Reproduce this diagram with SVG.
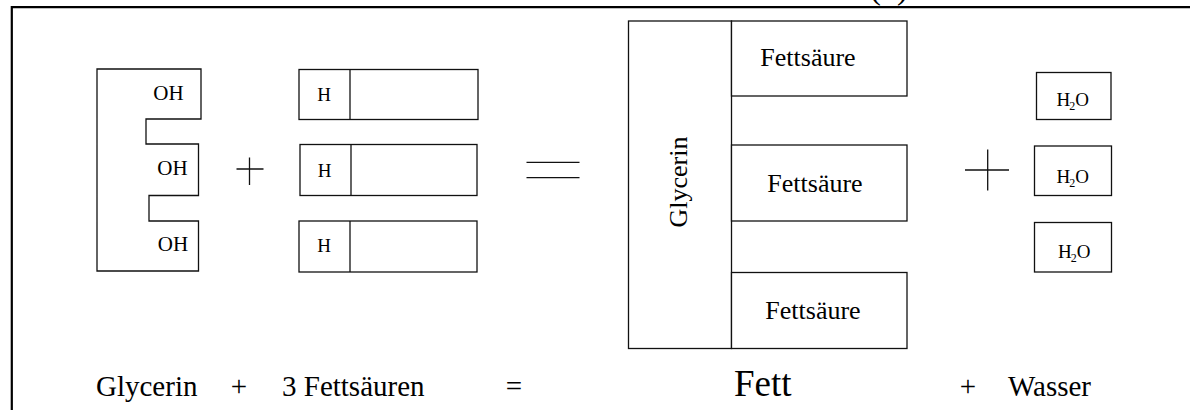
<svg xmlns="http://www.w3.org/2000/svg" width="1190" height="410" viewBox="0 0 1190 410" font-family="'Liberation Serif', 'Times New Roman', serif">
  <style>
    .frame { fill: none; stroke: #000; stroke-width: 2.2; }
    .box { fill: #fff; stroke: #111; stroke-width: 1.3; }
    .ln { fill: none; stroke: #111; stroke-width: 1.3; }
    text { font-family: "Liberation Serif", "Times New Roman", serif; fill: #000; }
    .sm { font-size: 19px; text-anchor: middle; }
    .oh { font-size: 21px; text-anchor: middle; }
    .md { font-size: 26px; text-anchor: middle; }
    .lg { font-size: 29px; }
  </style>

  <rect width="1190" height="410" fill="#fff"/>

  <!-- page frame (top and left rules) and the cut-off heading -->
  <path class="frame" d="M11.8,410 V7.2 H1190"/>
  <text x="889" y="-1" font-size="32" text-anchor="middle">(1)</text>

  <!-- glycerin molecule with three OH groups -->
  <g id="glycerin">
    <path class="ln" d="M97,69 H201 V119 H146 V144 H198.5 V195.5 H149 V221 H198.5 V271 H97 Z"/>
    <text class="oh" x="168.5" y="99.5">OH</text>
    <text class="oh" x="172.5" y="175">OH</text>
    <text class="oh" x="173" y="250.5">OH</text>
  </g>

  <!-- three fatty acids -->
  <g id="fatty-acid-1">
    <rect class="box" x="299" y="69.5" width="179" height="50"/>
    <line class="ln" x1="350" y1="69.5" x2="350" y2="119.5"/>
    <text class="sm" x="324" y="101">H</text>
  </g>
  <g id="fatty-acid-2">
    <rect class="box" x="300" y="144.5" width="177" height="51"/>
    <line class="ln" x1="351" y1="144.5" x2="351" y2="195.5"/>
    <text class="sm" x="324.5" y="176.5">H</text>
  </g>
  <g id="fatty-acid-3">
    <rect class="box" x="299" y="221" width="178" height="51"/>
    <line class="ln" x1="350" y1="221" x2="350" y2="272"/>
    <text class="sm" x="324" y="252">H</text>
  </g>

  <!-- fat: glycerin backbone with three fatty acids -->
  <g id="fat">
    <rect class="box" x="628.5" y="21" width="103" height="327.5"/>
    <text class="md" transform="translate(687,182) rotate(-90)">Glycerin</text>
    <rect class="box" x="731.5" y="21" width="175.5" height="75"/>
    <text class="md" x="808" y="66">Fettsäure</text>
    <rect class="box" x="731.5" y="145" width="175.5" height="76"/>
    <text class="md" x="815" y="191.5">Fettsäure</text>
    <rect class="box" x="731.5" y="272.5" width="175.5" height="76"/>
    <text class="md" x="813" y="319">Fettsäure</text>
  </g>

  <!-- three water molecules -->
  <g id="water-1">
    <rect class="box" x="1036.5" y="72.5" width="74.5" height="47"/>
    <text class="sm" x="1072.7" y="106">H<tspan font-size="12" dx="-1" dy="4">2</tspan><tspan dy="-4">O</tspan></text>
  </g>
  <g id="water-2">
    <rect class="box" x="1034.5" y="146" width="77" height="49.5"/>
    <text class="sm" x="1072.7" y="182.5">H<tspan font-size="12" dx="-1" dy="4">2</tspan><tspan dy="-4">O</tspan></text>
  </g>
  <g id="water-3">
    <rect class="box" x="1034.5" y="222.5" width="77" height="49.5"/>
    <text class="sm" x="1074.3" y="258.3">H<tspan font-size="12" dx="-1" dy="4">2</tspan><tspan dy="-4">O</tspan></text>
  </g>

  <!-- reaction operators -->
  <g id="operators">
    <path class="ln" d="M236.5,169 H263.5 M249.5,157.5 V185"/>
    <path class="ln" d="M526.5,162.3 H579.5 M526.5,177.7 H579.5"/>
    <path class="ln" d="M965,170 H1009 M987.7,149.5 V190.5"/>
  </g>

  <!-- word equation -->
  <g id="equation">
    <text class="lg" x="96" y="396">Glycerin</text>
    <text class="lg" x="239" y="396" text-anchor="middle">+</text>
    <text class="lg" x="282" y="396">3 Fettsäuren</text>
    <text class="lg" x="514" y="396" text-anchor="middle">=</text>
    <text x="734" y="396" font-size="37">Fett</text>
    <text class="lg" x="968" y="396" text-anchor="middle">+</text>
    <text class="lg" x="1008" y="396">Wasser</text>
  </g>
</svg>
